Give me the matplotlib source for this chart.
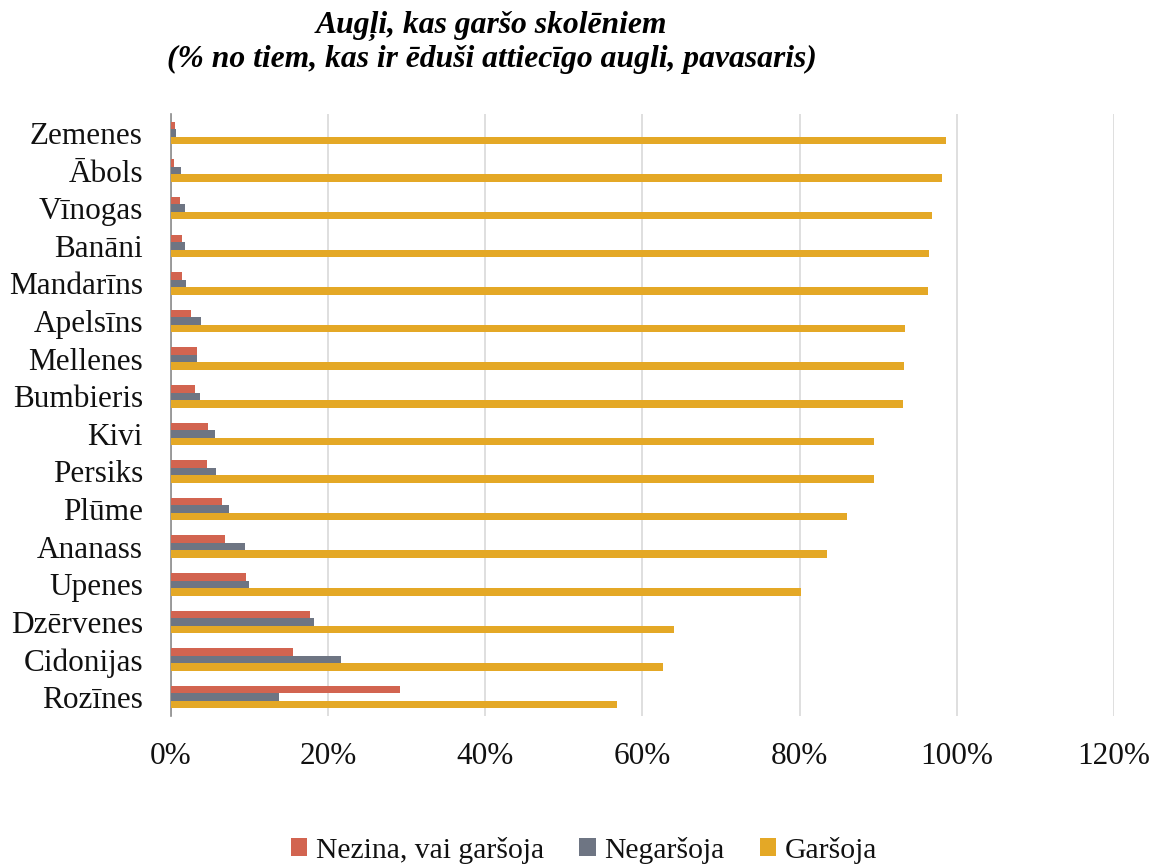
import matplotlib
matplotlib.use("Agg")
import matplotlib.pyplot as plt
import numpy as np
from matplotlib.ticker import FixedLocator, FuncFormatter

categories = ["Zemenes", "Ābols", "Vīnogas", "Banāni", "Mandarīns", "Apelsīns",
              "Mellenes", "Bumbieris", "Kivi", "Persiks", "Plūme", "Ananass",
              "Upenes", "Dzērvenes", "Cidonijas", "Rozīnes"]
nezina = [0.55, 0.45, 1.2, 1.5, 1.5, 2.6, 3.3, 3.1, 4.8, 4.6, 6.5, 6.9, 9.6, 17.7, 15.6, 29.2]
negarsoja = [0.7, 1.3, 1.8, 1.8, 2.0, 3.8, 3.3, 3.7, 5.6, 5.8, 7.4, 9.5, 10.0, 18.2, 21.7, 13.8]
garsoja = [98.6, 98.1, 96.9, 96.5, 96.3, 93.4, 93.3, 93.1, 89.5, 89.5, 86.0, 83.5, 80.2, 64.0, 62.6, 56.8]
series_names = ["Nezina, vai garšoja", "Negaršoja", "Garšoja"]
xticks = [0, 20, 40, 60, 80, 100, 120]

colors = ["#D26450", "#6E7583", "#E4A826"]
serif = ["Liberation Serif", "DejaVu Serif"]

fig = plt.figure(figsize=(11.61, 8.65), dpi=100)
ax = fig.add_axes([0.147, 0.1723, 0.9595 - 0.147, 0.868 - 0.1723])

y = np.arange(len(categories))
h = 0.2
for k, (vals, off) in enumerate(zip([nezina, negarsoja, garsoja], [-h, 0, h])):
    ax.barh(y + off, vals, height=h, color=colors[k], label=series_names[k], zorder=3)

ax.set_ylim(len(categories) - 0.5, -0.5)
ax.set_xlim(0, 120)
ax.xaxis.set_major_locator(FixedLocator(xticks))
ax.xaxis.set_major_formatter(FuncFormatter(lambda v, p: f"{v:.0f}%"))
ax.set_yticks(y)
ax.set_yticklabels(categories)
ax.grid(axis="x", color="#D9D9D9", linewidth=1.2, zorder=0)
ax.set_axisbelow(True)
for s in ["top", "right", "bottom"]:
    ax.spines[s].set_visible(False)
ax.spines["left"].set_color("#8C8C8C")
ax.spines["left"].set_linewidth(1.2)
ax.tick_params(axis="both", length=0)
ax.tick_params(axis="x", pad=19)
ax.tick_params(axis="y", pad=20)
for lbl in ax.get_xticklabels() + ax.get_yticklabels():
    lbl.set_family(serif)
    lbl.set_fontsize(22.5)
    lbl.set_color("#111111")

fig.text(0.4234, 0.9622, "Augļi, kas garšo skolēniem", ha="center", va="baseline",
         fontsize=22.8, fontweight="bold", fontstyle="italic", family=serif)
fig.text(0.4234, 0.9229, "(% no tiem, kas ir ēduši attiecīgo augli, pavasaris)", ha="center",
         va="baseline", fontsize=22.8, fontweight="bold", fontstyle="italic", family=serif)

leg = fig.legend(loc="center", bbox_to_anchor=(0.503, 0.017), ncol=3, frameon=False,
                 prop={"family": serif, "size": 21.3}, handlelength=0.56, handleheight=0.56,
                 handletextpad=0.28, columnspacing=1.2)
for t in leg.get_texts():
    t.set_color("#111111")

fig.savefig("out.png", dpi=100, facecolor="white")
